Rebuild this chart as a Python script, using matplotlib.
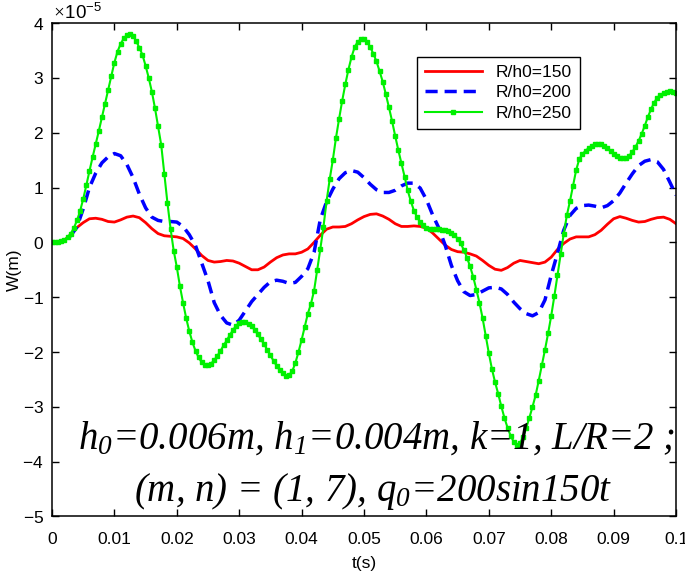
import numpy as np
import matplotlib
matplotlib.use("Agg")
import matplotlib.pyplot as plt
from matplotlib.ticker import ScalarFormatter, FuncFormatter, MultipleLocator

# -------- data (W in units of 1e-5 m) --------

scale = 1e-5

# red and blue sampled every 1 ms
t_coarse = np.linspace(0, 0.1, 101)

w150 = [0.00, 0.01, 0.04, 0.14, 0.27, 0.36, 0.43, 0.44, 0.42, 0.38,
        0.37, 0.41, 0.46, 0.48, 0.45, 0.36, 0.25, 0.16, 0.12, 0.11,
        0.10, 0.07, -0.01, -0.12, -0.24, -0.33, -0.36, -0.35, -0.33, -0.34,
        -0.38, -0.44, -0.50, -0.50, -0.45, -0.36, -0.28, -0.23, -0.21, -0.21,
        -0.18, -0.12, 0.00, 0.13, 0.24, 0.28, 0.28, 0.29, 0.34, 0.41,
        0.47, 0.51, 0.52, 0.48, 0.42, 0.34, 0.29, 0.29, 0.30, 0.29,
        0.26, 0.17, 0.06, -0.05, -0.13, -0.17, -0.18, -0.21, -0.25, -0.33,
        -0.42, -0.49, -0.51, -0.46, -0.38, -0.33, -0.35, -0.37, -0.39, -0.36,
        -0.27, -0.13, -0.02, 0.06, 0.10, 0.10, 0.10, 0.14, 0.22, 0.33,
        0.43, 0.47, 0.44, 0.40, 0.37, 0.38, 0.42, 0.45, 0.46, 0.42,
        0.34]

w200 = [0.00, 0.01, 0.04, 0.12, 0.28, 0.61, 1.00, 1.26, 1.45, 1.56,
        1.62, 1.58, 1.42, 1.18, 0.88, 0.63, 0.46, 0.40, 0.38, 0.38,
        0.37, 0.29, 0.14, -0.06, -0.38, -0.70, -1.10, -1.33, -1.47, -1.51,
        -1.42, -1.25, -1.08, -0.95, -0.82, -0.72, -0.69, -0.71, -0.75, -0.73,
        -0.62, -0.48, -0.18, 0.42, 0.74, 0.97, 1.16, 1.27, 1.31, 1.28,
        1.18, 1.06, 0.96, 0.91, 0.91, 0.95, 1.03, 1.08, 1.08, 0.99,
        0.78, 0.50, 0.26, -0.05, -0.42, -0.70, -0.90, -0.97, -0.95, -0.89,
        -0.83, -0.82, -0.85, -0.95, -1.09, -1.21, -1.30, -1.34, -1.28, -1.05,
        -0.60, -0.20, 0.22, 0.49, 0.62, 0.67, 0.68, 0.66, 0.63, 0.67,
        0.76, 0.90, 1.08, 1.25, 1.40, 1.48, 1.51, 1.47, 1.33, 1.10,
        0.86]

# green sampled every 0.5 ms
t_fine = np.linspace(0, 0.1, 201)

w250 = [0.00, 0.00, 0.01, 0.02, 0.05, 0.09, 0.16, 0.26, 0.40, 0.57,
        0.79, 1.04, 1.30, 1.55, 1.79, 2.03, 2.28, 2.53, 2.78, 3.03,
        3.28, 3.48, 3.62, 3.72, 3.78, 3.80, 3.76, 3.67, 3.55, 3.42,
        3.22, 3.00, 2.75, 2.45, 2.12, 1.78, 1.25, 0.72, 0.25, -0.15,
        -0.45, -0.80, -1.10, -1.38, -1.62, -1.82, -1.98, -2.10, -2.19, -2.24,
        -2.24, -2.21, -2.15, -2.07, -1.98, -1.88, -1.79, -1.69, -1.60, -1.52,
        -1.47, -1.45, -1.45, -1.48, -1.53, -1.60, -1.68, -1.77, -1.86, -1.96,
        -2.06, -2.16, -2.25, -2.33, -2.39, -2.43, -2.42, -2.35, -2.20, -2.00,
        -1.78, -1.54, -1.30, -1.12, -0.88, -0.50, -0.12, 0.28, 0.75, 1.15,
        1.50, 1.90, 2.25, 2.58, 2.88, 3.15, 3.38, 3.56, 3.66, 3.70,
        3.71, 3.66, 3.56, 3.44, 3.30, 3.12, 2.93, 2.70, 2.46, 2.21,
        1.94, 1.68, 1.44, 1.20, 0.95, 0.75, 0.58, 0.46, 0.37, 0.31,
        0.27, 0.25, 0.25, 0.25, 0.24, 0.23, 0.22, 0.20, 0.17, 0.13,
        0.07, -0.02, -0.14, -0.28, -0.44, -0.63, -0.86, -1.10, -1.38, -1.70,
        -2.02, -2.31, -2.55, -2.76, -2.99, -3.20, -3.38, -3.53, -3.64, -3.69,
        -3.66, -3.55, -3.38, -3.20, -3.00, -2.79, -2.52, -2.24, -1.96, -1.66,
        -1.34, -0.98, -0.60, -0.22, 0.15, 0.49, 0.75, 1.03, 1.32, 1.52,
        1.61, 1.67, 1.72, 1.76, 1.79, 1.80, 1.79, 1.76, 1.72, 1.67,
        1.61, 1.57, 1.54, 1.53, 1.54, 1.58, 1.65, 1.74, 1.85, 1.98,
        2.13, 2.29, 2.43, 2.55, 2.64, 2.69, 2.72, 2.74, 2.76, 2.75,
        2.73]

labels = ["R/h0=150", "R/h0=200", "R/h0=250"]

# -------- style --------

plt.rcParams['font.family'] = ['Liberation Sans', 'DejaVu Sans']
plt.rcParams['axes.unicode_minus'] = False
plt.rcParams['mathtext.fontset'] = 'custom'
plt.rcParams['mathtext.rm'] = 'Liberation Serif:italic'
plt.rcParams['mathtext.it'] = 'Liberation Serif:italic'

fig = plt.figure(figsize=(6.85, 5.76), dpi=100)
ax = fig.add_axes([0.0759, 0.1033, 0.9110, 0.8567])

ax.plot(t_coarse, np.array(w150) * scale, color='red', lw=2.0, label=labels[0])
ax.plot(t_coarse, np.array(w200) * scale, color='blue', lw=2.5,
        dashes=(3.5, 2.0), label=labels[1])
ax.plot(t_fine, np.array(w250) * scale, color='#00f000', lw=1.5,
        marker='s', markersize=2.8, label=labels[2])

ax.set_xlim(0, 0.1)
ax.set_ylim(-5e-5, 4e-5)
ax.xaxis.set_major_locator(MultipleLocator(0.01))
ax.xaxis.set_major_formatter(FuncFormatter(lambda v, p: '%g' % round(v, 4)))
ax.yaxis.set_major_locator(MultipleLocator(1e-5))
fmt = ScalarFormatter(useMathText=True)
fmt.set_powerlimits((0, 0))
ax.yaxis.set_major_formatter(fmt)
ax.yaxis.get_offset_text().set_fontsize(13.5)

ax.tick_params(direction='in', length=5, width=1, top=True, right=True,
               labelsize=12.5, colors='black')
ax.tick_params(axis='x', pad=11)
ax.tick_params(axis='y', pad=6)
for s in ax.spines.values():
    s.set_linewidth(1.1)

ax.set_xlabel("t(s)", fontsize=12.5, labelpad=7)
ax.set_ylabel("W(m)", fontsize=12.5, labelpad=0)

leg = ax.legend(loc='upper right', bbox_to_anchor=(0.846, 0.931),
                borderaxespad=0, fontsize=12.5, fancybox=False, framealpha=1,
                edgecolor='black', handlelength=3.3, borderpad=0.45,
                labelspacing=0.3)
leg.get_frame().set_linewidth(1.0)

ax.text(0.521, 0.157, r"h$_0$=0.006m, h$_1$=0.004m, k=1, L/R=2 ;",
        transform=ax.transAxes, ha='center', va='center', fontsize=28,
        family='Liberation Serif', style='italic')
ax.text(0.515, 0.051, r"(m, n) = (1, 7), q$_0$=200sin150t",
        transform=ax.transAxes, ha='center', va='center', fontsize=28,
        family='Liberation Serif', style='italic')

fig.savefig('out.png', dpi=100)
